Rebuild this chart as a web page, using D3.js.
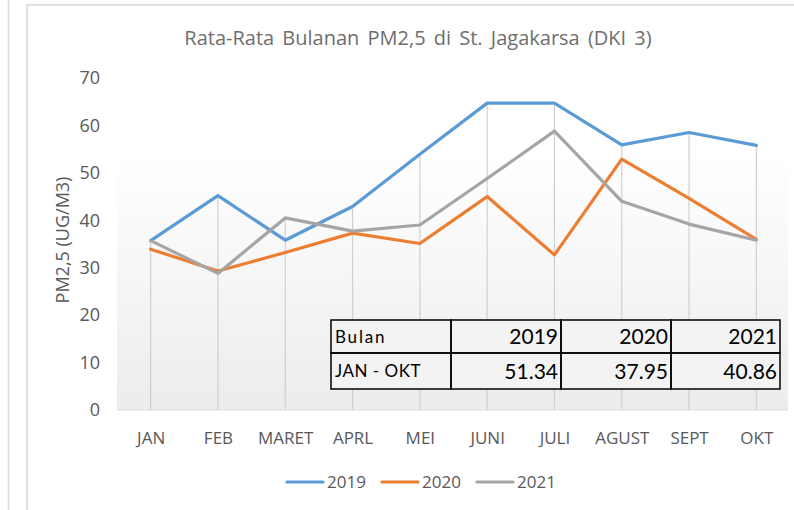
<!DOCTYPE html>
<html>
<head>
<meta charset="utf-8">
<script src="https://cdn.jsdelivr.net/npm/d3@7"></script>
<style>
  html, body { margin: 0; padding: 0; background: #fff; }
  svg { display: block; }
</style>
</head>
<body>
<svg id="chart" width="794" height="510"></svg>
<script>
const categories = ["JAN","FEB","MARET","APRL","MEI","JUNI","JULI","AGUST","SEPT","OKT"];
const series2019 = [35.7, 45.2, 35.8, 42.9, 53.9, 64.7, 64.7, 55.9, 58.5, 55.8];
const series2020 = [33.9, 29.3, 33.2, 37.3, 35.1, 45.0, 32.7, 52.9, 44.6, 36.0];
const series2021 = [35.7, 28.8, 40.5, 37.7, 39.0, 48.8, 58.8, 44.0, 39.2, 35.8];
const seriesNames = ["2019", "2020", "2021"];
const seriesColors = ["#5b9bd5", "#ed7d31", "#a5a5a5"];
const yTicks = [0, 10, 20, 30, 40, 50, 60, 70];
const tableHeader = ["Bulan", "2019", "2020", "2021"];
const tableRow = ["JAN - OKT", "51.34", "37.95", "40.86"];
const titleText = "Rata-Rata Bulanan PM2,5 di St. Jagakarsa (DKI 3)";
const yTitleText = "PM2,5 (UG/M3)";

(function () {
const allSeries = [series2019, series2020, series2021];
const svg = d3.select("#chart");
const font = "'Open Sans', sans-serif";

// frame
svg.append("line").attr("x1", 8.5).attr("x2", 8.5).attr("y1", 0).attr("y2", 510)
  .attr("stroke", "#d9d9d9").attr("stroke-width", 1.5);
svg.append("rect").attr("x", 27).attr("y", 5).attr("width", 800).attr("height", 520)
  .attr("fill", "#fff").attr("stroke", "#d9d9d9").attr("stroke-width", 1.5);

const pLeft = 117, pRight = 790, pTop = 78, pBottom = 410;
const x = d3.scalePoint().domain(categories).range([pLeft, pRight]).padding(0.5);
const y = d3.scaleLinear().domain([0, 70]).range([pBottom, pTop]);

// plot background gradient
const defs = svg.append("defs");
const grad = defs.append("linearGradient").attr("id", "bg").attr("x1", 0).attr("x2", 0).attr("y1", 0).attr("y2", 1);
grad.append("stop").attr("offset", "0%").attr("stop-color", "#ffffff");
grad.append("stop").attr("offset", "100%").attr("stop-color", "#ececec");
svg.append("rect").attr("x", pLeft).attr("y", y(54)).attr("width", pRight - pLeft - 2)
  .attr("height", pBottom - y(54)).attr("fill", "url(#bg)");

// drop lines
svg.append("g").selectAll("line").data(categories).join("line")
  .attr("x1", d => x(d)).attr("x2", d => x(d))
  .attr("y1", (d, i) => y(d3.max(allSeries, s => s[i])))
  .attr("y2", y(0))
  .attr("stroke", "#d0d0d0").attr("stroke-width", 1.2);

// x baseline
svg.append("line").attr("x1", pLeft).attr("x2", pRight - 2).attr("y1", y(0)).attr("y2", y(0))
  .attr("stroke", "#d9d9d9").attr("stroke-width", 1.2);

// title
svg.append("text").attr("x", 418).attr("y", 45).attr("text-anchor", "middle")
  .attr("font-family", font).attr("font-size", 20).attr("fill", "#6e6e6e")
  .attr("word-spacing", 3).text(titleText);

// y axis
const yAxis = d3.axisLeft(y).tickValues(yTicks).tickSize(0).tickPadding(0);
const gy = svg.append("g").attr("transform", `translate(100,0)`).call(yAxis);
gy.select(".domain").remove();
gy.selectAll("text").attr("font-family", font).attr("font-size", 18).attr("fill", "#595959");

svg.append("text").attr("transform", `translate(69,240) rotate(-90)`).attr("text-anchor", "middle")
  .attr("font-family", font).attr("font-size", 18).attr("fill", "#595959").text(yTitleText);

// x axis
const xAxis = d3.axisBottom(x).tickSize(0).tickPadding(0);
const gx = svg.append("g").attr("transform", `translate(0,${pBottom + 22})`).call(xAxis);
gx.select(".domain").remove();
gx.selectAll("text").attr("font-family", font).attr("font-size", 17).attr("fill", "#595959");

// lines
const line = d3.line().x((d, i) => x(categories[i])).y(d => y(d));
svg.append("g").selectAll("path").data(allSeries).join("path")
  .attr("d", d => line(d)).attr("fill", "none")
  .attr("stroke", (d, i) => seriesColors[i]).attr("stroke-width", 3.2)
  .attr("stroke-linejoin", "round").attr("stroke-linecap", "round");

// table
const colX = [331, 451, 561, 671, 780];
const rowY = [320, 353, 389];
const tg = svg.append("g");
tg.append("rect").attr("x", colX[0]).attr("y", rowY[0]).attr("width", colX[4] - colX[0])
  .attr("height", rowY[2] - rowY[0]).attr("fill", "#f3f3f3");
[tableHeader, tableRow].forEach((row, r) => {
  row.forEach((txt, c) => {
    tg.append("rect").attr("x", colX[c]).attr("y", rowY[r]).attr("width", colX[c + 1] - colX[c])
      .attr("height", rowY[r + 1] - rowY[r]).attr("fill", "none").attr("stroke", "#000").attr("stroke-width", 1.5);
    const fs = c === 0 ? 17 : 21;
    tg.append("text")
      .attr("x", c === 0 ? colX[c] + 4 : colX[c + 1] - 3)
      .attr("y", (rowY[r] + rowY[r + 1]) / 2 + fs * 0.36)
      .attr("text-anchor", c === 0 ? "start" : "end")
      .attr("font-family", "Lato, 'Open Sans', sans-serif").attr("font-size", fs)
      .attr("letter-spacing", c === 0 ? (r === 0 ? 1.8 : 0.5) : 0)
      .attr("fill", "#000").text(txt);
  });
});

// legend
const legendX = [287, 382, 477];
const lg = svg.append("g");
seriesNames.forEach((name, i) => {
  lg.append("line").attr("x1", legendX[i]).attr("x2", legendX[i] + 36).attr("y1", 482).attr("y2", 482)
    .attr("stroke", seriesColors[i]).attr("stroke-width", 3.2).attr("stroke-linecap", "round");
  lg.append("text").attr("x", legendX[i] + 40).attr("y", 488)
    .attr("font-family", font).attr("font-size", 17).attr("fill", "#595959").text(name);
});
})();
</script>
</body>
</html>
